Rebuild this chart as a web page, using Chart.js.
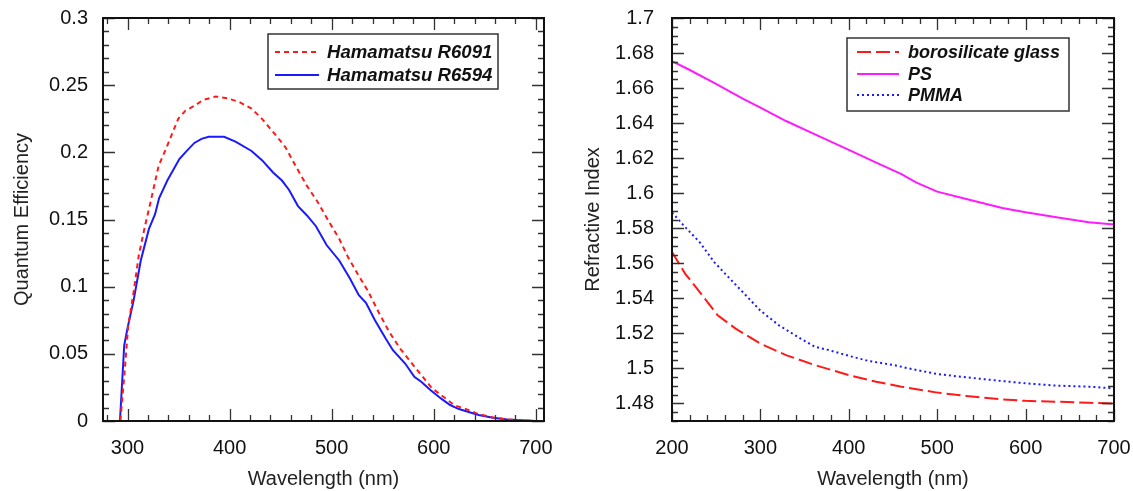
<!DOCTYPE html>
<html>
<head>
<meta charset="utf-8">
<script src="https://cdn.jsdelivr.net/npm/chart.js@4.4.1/dist/chart.umd.min.js"></script>
<style>
  html, body { margin: 0; padding: 0; background: #fff; }
  .panel { position: absolute; top: 0; height: 491px; }
  #left { left: 0; width: 566px; }
  #right { left: 566px; width: 567px; }
</style>
</head>
<body>
<div class="panel" id="left"><canvas id="qeChart"></canvas></div>
<div class="panel" id="right"><canvas id="riChart"></canvas></div>
<script>
// ---- Left panel: quantum efficiency ----
const qeXTicks = [300, 400, 500, 600, 700];
const qeYTicks = [0, 0.05, 0.1, 0.15, 0.2, 0.25, 0.3];

const r6594Nm = [276, 292.6, 296.8, 300, 306, 313, 321, 327, 331, 339, 350.8, 356.7, 365.5, 372.5, 379.5, 394.6, 405.8, 421.5, 432, 442.6, 451.3, 458.3, 467, 475.8, 484.6, 495, 507.4, 517.9, 526.6, 533.6, 542.4, 552.9, 560, 572, 581, 588, 596.7, 607, 616, 624.7, 633.4, 644, 658, 672, 686, 700];
const r6594QE = [0, 0, 0.0564, 0.069, 0.0898, 0.1195, 0.143, 0.154, 0.166, 0.179, 0.195, 0.200, 0.207, 0.210, 0.2116, 0.2116, 0.208, 0.201, 0.194, 0.185, 0.179, 0.172, 0.160, 0.153, 0.145, 0.131, 0.1195, 0.106, 0.0936, 0.088, 0.075, 0.0614, 0.0527, 0.0428, 0.0329, 0.029, 0.023, 0.0168, 0.0119, 0.0089, 0.0069, 0.0045, 0.0025, 0.0012, 0.0005, 0];

const r6091Nm = [276, 293, 297, 300.7, 306, 311, 316.5, 321.7, 330.5, 339, 349.7, 356.7, 365.5, 374, 386.5, 399, 409, 421.5, 432, 444.4, 454.8, 465.3, 475.8, 486.3, 496.8, 507.4, 516, 526.6, 535.4, 546, 556.4, 567, 577.4, 588, 598.4, 610.7, 621, 630, 642, 654, 672, 686, 700];
const r6091QE = [0, 0, 0.035, 0.071, 0.096, 0.123, 0.143, 0.160, 0.190, 0.205, 0.225, 0.231, 0.2346, 0.239, 0.2416, 0.240, 0.2376, 0.2326, 0.2247, 0.2136, 0.2037, 0.189, 0.175, 0.163, 0.149, 0.1356, 0.122, 0.108, 0.097, 0.081, 0.0663, 0.054, 0.044, 0.034, 0.0243, 0.0173, 0.0114, 0.0094, 0.0057, 0.0032, 0.0012, 0.0005, 0];

// ---- Right panel: refractive index ----
const riXTicks = [200, 300, 400, 500, 600, 700];
const riYTicks = [1.48, 1.5, 1.52, 1.54, 1.56, 1.58, 1.6, 1.62, 1.64, 1.66, 1.68, 1.7];

const psNm = [200, 219, 247.7, 280, 300, 329, 361.8, 400, 431, 459.6, 476, 500, 533, 573.7, 600, 634.8, 671.5, 700];
const psN = [1.6754, 1.6706, 1.663, 1.654, 1.6488, 1.6412, 1.6336, 1.6247, 1.6175, 1.6109, 1.6062, 1.6009, 1.5967, 1.5916, 1.5891, 1.5863, 1.5834, 1.5821];

const pmmaNm = [200, 215, 231.4, 247.7, 264, 280, 300, 321, 345.5, 361.8, 378, 400, 422.9, 451.4, 467.7, 500, 533, 573.7, 600, 634.8, 671.5, 700];
const pmmaN = [1.589, 1.5806, 1.572, 1.5607, 1.552, 1.5436, 1.533, 1.5246, 1.517, 1.5123, 1.5104, 1.5072, 1.5042, 1.5019, 1.5, 1.4968, 1.4949, 1.4928, 1.4915, 1.4902, 1.4896, 1.4886];

const glassNm = [200, 215, 231.4, 251.7, 272, 300, 329, 361.8, 400, 431, 459.6, 500, 533, 573.7, 600, 634.8, 671.5, 700];
const glassN = [1.5664, 1.554, 1.5436, 1.5303, 1.5227, 1.5142, 1.5076, 1.5019, 1.4962, 1.4924, 1.4896, 1.4862, 1.4843, 1.4823, 1.4815, 1.481, 1.4804, 1.48];

const pts = (xs, ys) => xs.map((x, i) => ({ x, y: ys[i] }));
const FONT = '"Liberation Sans", Arial, sans-serif';

// ---- Frame with inward ticks on all four sides ----
const frameTicks = {
  id: 'frameTicks',
  afterDraw(chart, args, o) {
    const { ctx, chartArea: a, scales: { x, y } } = chart;
    ctx.save();
    ctx.strokeStyle = '#333';
    ctx.lineWidth = 1.3;
    const mark = (v0, step, max, isMajor, axis) => {
      for (let v = v0; v <= max + 1e-9; v += step) {
        const len = isMajor(v) ? 12 : 6;
        ctx.beginPath();
        if (axis === 'x') {
          const p = Math.round(x.getPixelForValue(v)) + 0.5;
          ctx.moveTo(p, a.bottom); ctx.lineTo(p, a.bottom - len);
          ctx.moveTo(p, a.top); ctx.lineTo(p, a.top + len);
        } else {
          const p = Math.round(y.getPixelForValue(v)) + 0.5;
          ctx.moveTo(a.left, p); ctx.lineTo(a.left + len, p);
          ctx.moveTo(a.right, p); ctx.lineTo(a.right - len, p);
        }
        ctx.stroke();
      }
    };
    const near = (v, list) => list.some(t => Math.abs(t - v) < 1e-6);
    mark(o.xMinor0, o.xMinor, x.max, v => near(v, o.xMajors), 'x');
    mark(o.yMinor0, o.yMinor, y.max, v => near(v, o.yMajors), 'y');
    ctx.strokeStyle = '#111';
    ctx.lineWidth = 2;
    ctx.strokeRect(a.left, a.top, a.right - a.left, a.bottom - a.top);
    ctx.restore();
  }
};

// ---- Boxed legend inside the plot ----
const boxLegend = {
  id: 'boxLegend',
  afterDraw(chart, args, o) {
    const ctx = chart.ctx;
    ctx.save();
    ctx.fillStyle = '#fff';
    ctx.fillRect(o.x, o.y, o.w, o.h);
    ctx.strokeStyle = '#333';
    ctx.lineWidth = 1.5;
    ctx.strokeRect(o.x, o.y, o.w, o.h);
    chart.data.datasets.forEach((ds, i) => {
      const ry = o.rows[i];
      ctx.strokeStyle = ds.borderColor;
      ctx.lineWidth = ds.borderWidth;
      ctx.setLineDash(ds.borderDash || []);
      ctx.beginPath();
      ctx.moveTo(o.s0, ry); ctx.lineTo(o.s1, ry);
      ctx.stroke();
      ctx.setLineDash([]);
      ctx.fillStyle = '#111';
      ctx.font = 'italic bold ' + o.size + 'px ' + FONT;
      ctx.textBaseline = 'middle';
      ctx.fillText(ds.label, o.tx, ry + 1);
    });
    ctx.restore();
  }
};

const noPad = s => { s.paddingTop = 0; s.paddingBottom = 0; s.paddingLeft = 0; s.paddingRight = 0; };

function makeChart(id, datasets, cfg) {
  return new Chart(document.getElementById(id), {
    type: 'line',
    data: { datasets },
    options: {
      responsive: true, maintainAspectRatio: false, animation: false,
      layout: { padding: { top: 18, right: cfg.padRight, left: 0, bottom: 0 } },
      elements: { point: { radius: 0 }, line: { tension: 0 } },
      plugins: {
        legend: { display: false }, tooltip: { enabled: false },
        frameTicks: cfg.ticks, boxLegend: cfg.legend
      },
      scales: {
        x: {
          type: 'linear', min: cfg.xMin, max: cfg.xMax,
          afterBuildTicks: s => { s.ticks = cfg.xTicks.map(v => ({ value: v })); },
          afterFit: s => { s.height = 70; noPad(s); },
          grid: { display: false, drawTicks: false }, border: { display: false },
          ticks: { color: '#111', font: { family: FONT, size: 20 }, padding: 15, maxRotation: 0, callback: v => String(v) },
          title: { display: true, text: 'Wavelength (nm)', color: '#222', font: { family: FONT, size: 20 }, padding: { top: 0, bottom: 0 } }
        },
        y: {
          type: 'linear', min: cfg.yMin, max: cfg.yMax,
          afterBuildTicks: s => { s.ticks = cfg.yTicks.map(v => ({ value: v })); },
          afterFit: s => { s.width = cfg.yWidth; noPad(s); },
          grid: { display: false, drawTicks: false }, border: { display: false },
          ticks: { color: '#111', font: { family: FONT, size: 20 }, padding: cfg.yPad, callback: v => String(v) },
          title: { display: true, text: cfg.yTitle, color: '#222', font: { family: FONT, size: 20 }, padding: { top: cfg.titlePad, bottom: 0 } }
        }
      }
    },
    plugins: [frameTicks, boxLegend]
  });
}

makeChart('qeChart', [
  { label: 'Hamamatsu R6091', data: pts(r6091Nm, r6091QE), borderColor: '#ff1a1a', borderWidth: 2, borderDash: [5, 4] },
  { label: 'Hamamatsu R6594', data: pts(r6594Nm, r6594QE), borderColor: '#1a1aff', borderWidth: 2 }
], {
  padRight: 22, xMin: 276, xMax: 708, yMin: 0, yMax: 0.3,
  xTicks: qeXTicks, yTicks: qeYTicks, yWidth: 103, yPad: 15, titlePad: 10,
  yTitle: 'Quantum Efficiency',
  ticks: { xMinor0: 280, xMinor: 20, xMajors: qeXTicks, yMinor0: 0, yMinor: 0.01, yMajors: qeYTicks },
  legend: { x: 268, y: 34, w: 230, h: 55, rows: [52, 75], s0: 275, s1: 319, tx: 327, size: 18.6 }
});

makeChart('riChart', [
  { label: 'borosilicate glass', data: pts(glassNm, glassN), borderColor: '#ff1a1a', borderWidth: 2, borderDash: [14, 5] },
  { label: 'PS', data: pts(psNm, psN), borderColor: '#ff1aff', borderWidth: 2 },
  { label: 'PMMA', data: pts(pmmaNm, pmmaN), borderColor: '#1a1aff', borderWidth: 2, borderDash: [2, 3] }
], {
  padRight: 19, xMin: 200, xMax: 700, yMin: 1.47, yMax: 1.7,
  xTicks: riXTicks, yTicks: riYTicks, yWidth: 106, yPad: 18, titlePad: 15,
  yTitle: 'Refractive Index',
  ticks: { xMinor0: 200, xMinor: 20, xMajors: riXTicks, yMinor0: 1.47, yMinor: 0.005, yMajors: riYTicks },
  legend: { x: 281, y: 38, w: 222, h: 73, rows: [52, 74, 95], s0: 291, s1: 333, tx: 342, size: 18 }
});
</script>
</body>
</html>
